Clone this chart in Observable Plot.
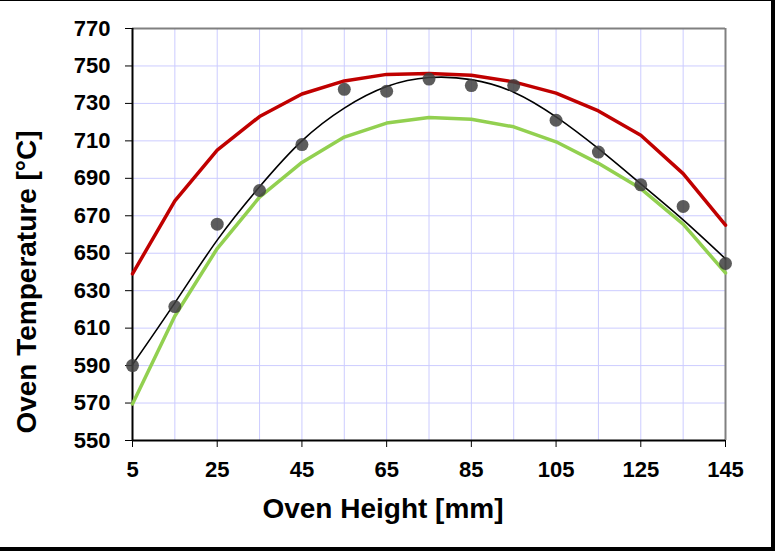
<!DOCTYPE html>
<html>
<head>
<meta charset="utf-8">
<script src="https://cdn.jsdelivr.net/npm/d3@7"></script>
<script src="https://cdn.jsdelivr.net/npm/@observablehq/plot@0.6"></script>
<style>
  html, body { margin: 0; padding: 0; background: #fff; }
  #wrap { position: relative; width: 780px; height: 553px; }
  #border { position: absolute; left: 0; top: 0; width: 771px; height: 546px;
            border-top: 1px solid #000; border-right: 4px solid #000; border-bottom: 4px solid #000;
            pointer-events: none; }
</style>
</head>
<body>
<div id="wrap"><div id="border"></div></div>
<script>
// Oven height positions [mm]
const heights = [5, 15, 25, 35, 45, 55, 65, 75, 85, 95, 105, 115, 125, 135, 145];
// Upper profile (red)
const upper = [639, 678, 705, 723, 735, 742, 745.5, 746, 745, 741.5, 735.5, 726, 713, 692.5, 665];
// Lower profile (green)
const lower = [569.5, 616.5, 652.5, 680, 698.5, 712, 719.5, 722.5, 721.5, 717.5, 709.5, 698, 684.5, 665.5, 639.5];
// Measured points (dots)
const measured = [590, 621.5, 665.5, 683.5, 708, 737.5, 736.5, 743, 739.5, 739.5, 721, 704, 686.5, 675, 644.5];
// Trend curve (black)
const trend = [590.5, 623.5, 657, 685.5, 710, 727.5, 739, 743.8, 742.7, 736, 722.8, 705.8, 687, 667.8, 647];

const xTicks = [5, 25, 45, 65, 85, 105, 125, 145];
const xGrid = [15, 25, 35, 45, 55, 65, 75, 85, 95, 105, 115, 125, 135];
const yTicks = [550, 570, 590, 610, 630, 650, 670, 690, 710, 730, 750, 770];
const yGrid = yTicks.slice(1, -1);

const xTitle = "Oven Height [mm]";
const yTitle = "Oven Temperature [°C]";

const rows = heights.map((h, i) => ({h, upper: upper[i], lower: lower[i], measured: measured[i], trend: trend[i]}));

const chart = Plot.plot({
  width: 780,
  height: 553,
  marginLeft: 132,
  marginRight: 55,
  marginTop: 28,
  marginBottom: 113,
  style: {fontFamily: "'Liberation Sans', Arial, sans-serif", fontSize: "22px", fontWeight: "bold", color: "#000", background: "transparent"},
  x: {domain: [5, 145]},
  y: {domain: [550, 770]},
  marks: [
    Plot.gridX(xGrid, {stroke: "#ccccff", strokeOpacity: 1, strokeWidth: 1}),
    Plot.gridY(yGrid, {stroke: "#ccccff", strokeOpacity: 1, strokeWidth: 1}),
    Plot.ruleY([770], {stroke: "#808080", strokeWidth: 2}),
    Plot.ruleX([145], {stroke: "#808080", strokeWidth: 2}),
    Plot.ruleX([5], {stroke: "#000", strokeWidth: 2}),
    Plot.ruleY([550], {stroke: "#000", strokeWidth: 2}),
    Plot.axisX({ticks: xTicks, tickSize: 7, tickPadding: 14, label: null, tickFormat: d => String(d)}),
    Plot.axisY({ticks: yTicks, tickSize: 7, tickPadding: 15, label: null, tickFormat: d => String(d)}),
    Plot.line(rows, {x: "h", y: "upper", stroke: "#c00000", strokeWidth: 3.5}),
    Plot.line(rows, {x: "h", y: "lower", stroke: "#92d050", strokeWidth: 3.5}),
    Plot.line(rows, {x: "h", y: "trend", stroke: "#000", strokeWidth: 1.6, curve: "natural"}),
    Plot.dot(rows, {x: "h", y: "measured", r: 6.5, fill: "#404040", fillOpacity: 0.85, stroke: "none"})
  ]
});

const svg = d3.select(chart);
svg.append("text")
  .attr("x", 383).attr("y", 518)
  .attr("text-anchor", "middle")
  .style("font-size", "28px").style("font-weight", "bold")
  .text(xTitle);
svg.append("text")
  .attr("transform", "translate(36,282) rotate(-90)")
  .attr("text-anchor", "middle")
  .style("font-size", "28px").style("font-weight", "bold")
  .text(yTitle);

document.getElementById("wrap").prepend(chart);
</script>
</body>
</html>
